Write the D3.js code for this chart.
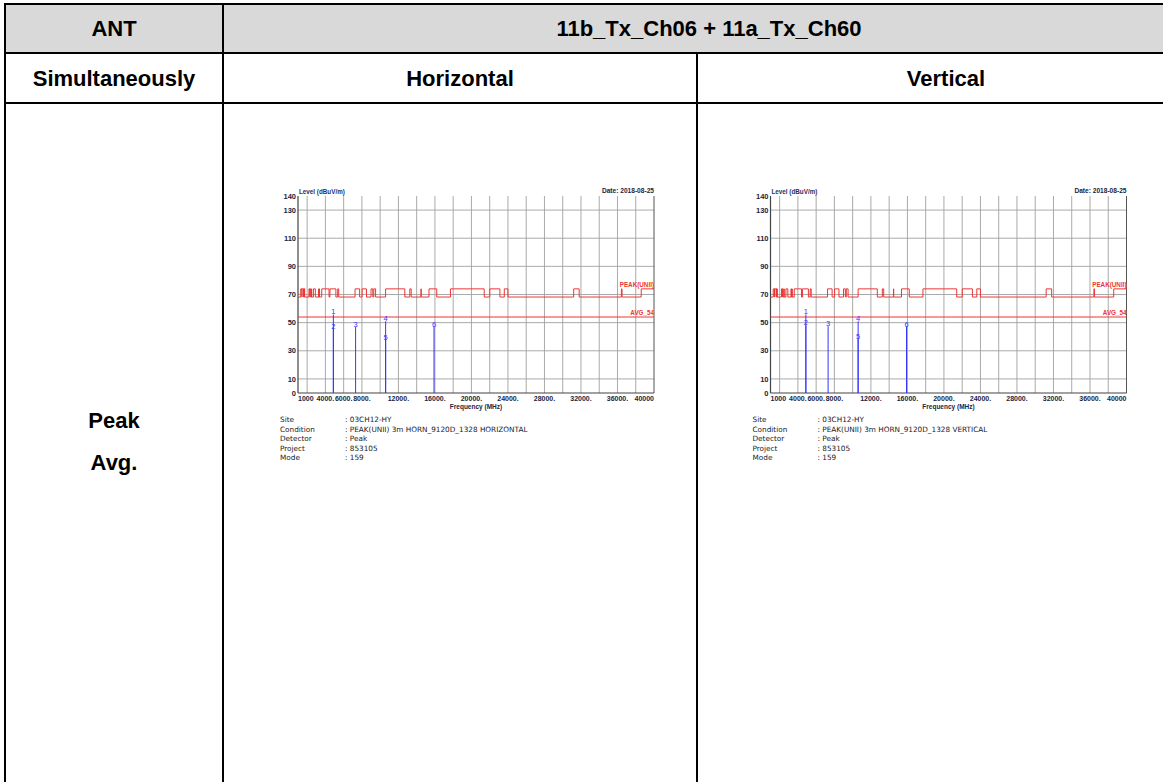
<!DOCTYPE html>
<html>
<head>
<meta charset="utf-8">
<script src="https://cdn.jsdelivr.net/npm/d3@7"></script>
<style>
  body { margin: 0; background: #fff; }
  svg { display: block; }
</style>
</head>
<body>
<div id="page"></div>
<script>
// restricted bands (MHz) where the PEAK(UNII) limit steps up to 74
var restrictedBands = [
  [1300, 1427], [1435, 1626.5], [1645.5, 1646.5], [1660, 1710], [1718.8, 1722.2],
  [2200, 2300], [2310, 2390], [2483.5, 2500], [2690, 2900], [3260, 3267],
  [3332, 3339], [3345.8, 3358], [3600, 4400], [4500, 5150], [5350, 5460],
  [7250, 7750], [8025, 8500], [9000, 9200], [9300, 9500], [10600, 12700],
  [13250, 13400], [14470, 14500], [15350, 16200], [17700, 21400], [22010, 23120],
  [23600, 24000], [31200, 31800], [36430, 36500], [38600, 40000]
];
var limitRestricted = 74, limitOther = 68.2, avgLimit = 54;

var yTickValues = [0, 10, 30, 50, 70, 90, 110, 130, 140];
var yGridValues = [10, 30, 50, 70, 90, 110, 130];
var xTickValues = [1000, 4000, 6000, 8000, 12000, 16000, 20000, 24000, 28000, 32000, 36000, 40000];
var xTickLabels = ["1000", "4000.", "6000.", "8000.", "12000.", "16000.", "20000.", "24000.", "28000.", "32000.", "36000.", "40000"];
var xGridValues = [2000, 4000, 6000, 8000, 10000, 12000, 14000, 16000, 18000, 20000,
  22000, 24000, 26000, 28000, 30000, 32000, 34000, 36000, 38000];

// markers: 1,3,4,6 peak readings, 2,5 average readings
var markerIds = ["1", "2", "3", "4", "5", "6"];
var markerFreqs = [4874, 4874, 7311, 10600, 10600, 15900];
var markerHoriz = [55.8, 45.5, 47, 51, 38, 47];
var markerVert = [55.8, 48, 47.5, 51, 38.5, 47];

var infoLabels = ["Site", "Condition", "Detector", "Project", "Mode"];
var infoHoriz = ["03CH12-HY", "PEAK(UNII) 3m HORN_9120D_1328 HORIZONTAL", "Peak", "853105", "159"];
var infoVert = ["03CH12-HY", "PEAK(UNII) 3m HORN_9120D_1328 VERTICAL", "Peak", "853105", "159"];

var W = 1163, H = 782;
var svg = d3.select("#page").append("svg")
  .attr("width", W)
  .attr("height", H);

// ---- table frame ----
var tLeft = 5, tTop = 4, tRight = 1195;
var col1 = 223, col2 = 697;
var row1 = 53, row2 = 103;
var tableFont = "'Liberation Sans', Arial, sans-serif";

svg.append("rect")
  .attr("x", tLeft).attr("y", tTop)
  .attr("width", tRight - tLeft).attr("height", row1 - tTop)
  .attr("fill", "#d9d9d9");

var borders = svg.append("g").attr("stroke", "#000").attr("stroke-width", 2);
[tTop, row1, row2].forEach(function(y) {
  borders.append("line").attr("x1", tLeft - 1).attr("x2", tRight).attr("y1", y).attr("y2", y);
});
borders.append("line").attr("x1", tLeft).attr("x2", tLeft).attr("y1", tTop).attr("y2", H);
borders.append("line").attr("x1", col1).attr("x2", col1).attr("y1", tTop).attr("y2", H);
borders.append("line").attr("x1", col2).attr("x2", col2).attr("y1", row1).attr("y2", H);

function cellText(x, y, txt) {
  svg.append("text")
    .attr("x", x).attr("y", y)
    .attr("text-anchor", "middle")
    .attr("dominant-baseline", "central")
    .attr("font-family", tableFont)
    .attr("font-weight", "bold")
    .attr("font-size", 22)
    .attr("fill", "#000")
    .text(txt);
}
cellText((tLeft + col1) / 2, (tTop + row1) / 2, "ANT");
cellText((col1 + tRight) / 2, (tTop + row1) / 2, "11b_Tx_Ch06 + 11a_Tx_Ch60");
cellText((tLeft + col1) / 2, (row1 + row2) / 2, "Simultaneously");
cellText((col1 + col2) / 2, (row1 + row2) / 2, "Horizontal");
cellText((col2 + tRight) / 2, (row1 + row2) / 2, "Vertical");
cellText((tLeft + col1) / 2, 420, "Peak");
cellText((tLeft + col1) / 2, 462, "Avg.");

// ---- plots ----
var pw = 356, ph = 197;
var x = d3.scaleLinear().domain([1000, 40000]).range([0, pw]);
var y = d3.scaleLinear().domain([0, 140]).range([ph, 0]);

// step points of the PEAK(UNII) limit
var limitPts = [[1000, limitOther]];
restrictedBands.forEach(function(b) {
  limitPts.push([b[0], limitRestricted]);
  if (b[1] < 40000) limitPts.push([b[1], limitOther]);
});
limitPts.push([40000, limitRestricted]);

var limitLine = d3.line()
  .x(function(d) { return x(d[0]); })
  .y(function(d) { return y(d[1]); })
  .curve(d3.curveStepAfter);

function drawPlot(ox, oy, markerVals, infoVals) {
  var g = svg.append("g").attr("transform", "translate(" + ox + "," + oy + ")");
  var sf = "'Liberation Sans', Arial, sans-serif";

  // grid
  g.selectAll(".vg").data(xGridValues).enter().append("line")
    .attr("x1", function(d) { return x(d); }).attr("x2", function(d) { return x(d); })
    .attr("y1", 0).attr("y2", ph)
    .attr("stroke", "#a0a0a0").attr("stroke-width", 0.9);
  g.selectAll(".hg").data(yGridValues).enter().append("line")
    .attr("x1", 0).attr("x2", pw)
    .attr("y1", function(d) { return y(d); }).attr("y2", function(d) { return y(d); })
    .attr("stroke", "#a0a0a0").attr("stroke-width", 0.9);

  // frame
  g.append("line").attr("x1", pw).attr("x2", pw).attr("y1", 0).attr("y2", ph)
    .attr("stroke", "#555").attr("stroke-width", 1);
  g.append("line").attr("x1", 0).attr("x2", 0).attr("y1", 0).attr("y2", ph)
    .attr("stroke", "#444").attr("stroke-width", 1.2);
  g.append("line").attr("x1", 0).attr("x2", pw).attr("y1", ph).attr("y2", ph)
    .attr("stroke", "#444").attr("stroke-width", 1.2);

  // y tick labels
  g.selectAll(".yt").data(yTickValues).enter().append("text")
    .attr("x", -2).attr("y", function(d) { return y(d); })
    .attr("dy", "0.35em")
    .attr("text-anchor", "end")
    .attr("font-family", sf).attr("font-weight", "bold").attr("font-size", 7.5)
    .attr("fill", "#1c2440")
    .text(function(d) { return d; });

  // x tick labels
  g.selectAll(".xt").data(xTickValues).enter().append("text")
    .attr("x", function(d) { return x(d); })
    .attr("y", ph + 8)
    .attr("text-anchor", function(d, i) {
      return i === 0 ? "start" : (i === xTickValues.length - 1 ? "end" : "middle");
    })
    .attr("font-family", sf).attr("font-weight", "bold").attr("font-size", 7)
    .attr("fill", "#1c2440")
    .text(function(d, i) { return xTickLabels[i]; });

  g.append("text").attr("x", pw / 2).attr("y", ph + 16)
    .attr("text-anchor", "middle")
    .attr("font-family", sf).attr("font-weight", "bold").attr("font-size", 6.5)
    .attr("fill", "#1c2440")
    .text("Frequency (MHz)");

  g.append("text").attr("x", 1).attr("y", -2)
    .attr("font-family", sf).attr("font-weight", "bold").attr("font-size", 6.3)
    .attr("fill", "#1f2f6a")
    .text("Level (dBuV/m)");

  g.append("text").attr("x", pw).attr("y", -3)
    .attr("text-anchor", "end")
    .attr("font-family", sf).attr("font-weight", "bold").attr("font-size", 6.6)
    .attr("fill", "#1c2440")
    .text("Date: 2018-08-25");

  // limit lines
  g.append("path")
    .attr("d", limitLine(limitPts))
    .attr("fill", "none")
    .attr("stroke", "#ee3535")
    .attr("stroke-width", 1);

  g.append("line").attr("x1", 0).attr("x2", pw)
    .attr("y1", y(avgLimit)).attr("y2", y(avgLimit))
    .attr("stroke", "#ee3535").attr("stroke-width", 1);

  g.append("text").attr("x", pw).attr("y", y(limitRestricted) - 2)
    .attr("text-anchor", "end")
    .attr("font-family", sf).attr("font-weight", "bold").attr("font-size", 6.3)
    .attr("fill", "#ee3535")
    .text("PEAK(UNII)");
  g.append("text").attr("x", pw).attr("y", y(avgLimit) - 2)
    .attr("text-anchor", "end")
    .attr("font-family", sf).attr("font-weight", "bold").attr("font-size", 6.3)
    .attr("fill", "#ee3535")
    .text("AVG_" + avgLimit);

  // markers
  var mk = markerIds.map(function(id, i) {
    return { id: id, f: markerFreqs[i], v: markerVals[i] };
  });
  g.selectAll(".ml").data(mk).enter().append("line")
    .attr("x1", function(d) { return x(d.f); }).attr("x2", function(d) { return x(d.f); })
    .attr("y1", ph).attr("y2", function(d) { return y(d.v); })
    .attr("stroke", "#3535ff").attr("stroke-width", 1);
  g.selectAll(".mt").data(mk).enter().append("text")
    .attr("x", function(d) { return x(d.f); })
    .attr("y", function(d) { return y(d.v); })
    .attr("text-anchor", "middle")
    .attr("font-family", sf).attr("font-size", 7.5)
    .attr("fill", "#3535ff")
    .text(function(d) { return d.id; });

  // info block
  var info = g.append("g")
    .attr("font-family", "'DejaVu Sans', sans-serif")
    .attr("font-size", 7.3)
    .attr("fill", "#222");
  infoLabels.forEach(function(lab, i) {
    info.append("text").attr("x", -18).attr("y", 226 + i * 9.5).text(lab);
    info.append("text").attr("x", 47).attr("y", 226 + i * 9.5).text(": " + infoVals[i]);
  });
}

drawPlot(298, 196, markerHoriz, infoHoriz);
drawPlot(770.5, 196, markerVert, infoVert);
</script>
</body>
</html>
